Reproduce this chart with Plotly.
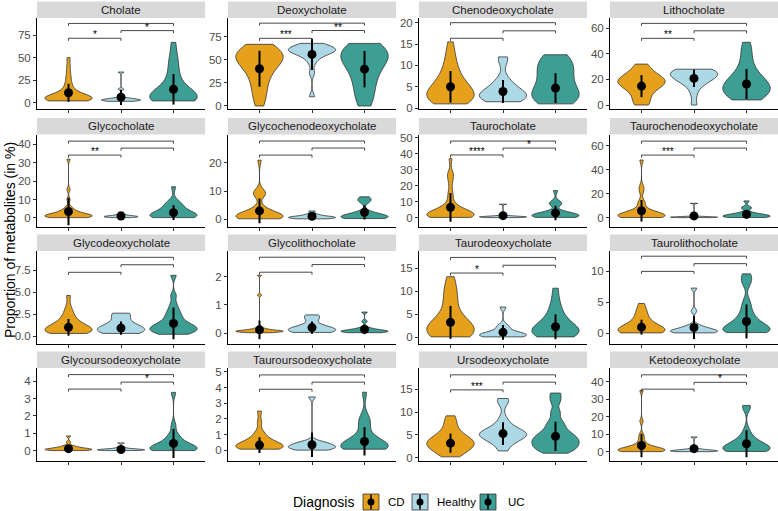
import plotly.graph_objects as go

W, H = 778, 511
GROUPS = ["CD", "Healthy", "UC"]
FILL = {"CD": "#E5A11C", "Healthy": "#ADD8E6", "UC": "#3D9E93"}

FACETS = ["Cholate", "Deoxycholate", "Chenodeoxycholate", "Lithocholate",
          "Glycocholate", "Glycochenodeoxycholate", "Taurocholate", "Taurochenodeoxycholate",
          "Glycodeoxycholate", "Glycolithocholate", "Taurodeoxycholate", "Taurolithocholate",
          "Glycoursodeoxycholate", "Tauroursodeoxycholate", "Ursodeoxycholate", "Ketodeoxycholate"]

# ---------------- sample values (proportion in %) per facet / diagnosis ----------------
CHOLATE_CD = [2, 2, 2.5, 3, 3, 3.5, 4, 4, 4.5, 5, 5, 5.5, 6, 6.5, 7, 8, 9, 10, 12, 14, 17, 21, 26, 32, 40, 50]
CHOLATE_HEALTHY = [1.5, 2, 2.5, 2.5, 3, 3, 3.5, 4, 4.5, 5, 15, 34]
CHOLATE_UC = [2, 2.5, 3, 3.5, 4, 4.5, 5, 5.5, 6, 7, 8, 10, 12, 15, 19, 24, 30, 37, 45, 52, 67]

DEOXY_CD = [0, 5, 10, 15, 20, 24, 28, 32, 35, 38, 41, 43, 45, 47, 49, 50, 51, 52, 53, 54, 55, 56, 57, 58, 59, 60, 61, 62, 64, 67]
DEOXY_HEALTHY = [10, 36, 47, 52, 55, 57, 58, 59, 60, 60.5, 61, 62, 63, 64, 65, 66, 68]
DEOXY_UC = [0, 4, 9, 14, 19, 24, 28, 32, 36, 40, 43, 46, 48, 50, 52, 54, 55, 57, 58, 59, 60, 62, 64, 66, 68]

CHENO_CD = [1, 1.2, 1.5, 1.8, 2, 2.2, 2.5, 2.8, 3, 3.2, 3.5, 3.8, 4, 4.5, 5, 5.5, 6, 6.5, 7, 8, 9, 10, 11.5, 13, 15.5]
CHENO_HEALTHY = [1.5, 1.8, 2, 2.3, 2.5, 2.8, 3, 3.3, 3.6, 4, 4.5, 5, 6, 7, 11, 12]
CHENO_UC = [1, 1.3, 1.6, 2, 2.3, 2.6, 3, 3.3, 3.6, 4, 4.5, 5, 6, 7, 7.5, 8, 8.5, 9, 10, 10.5, 11, 11.5, 12, 12.5]

LITHO_CD = [0, 1, 3, 6, 9, 11, 13, 14, 15, 16, 17, 18, 18.5, 19, 19.5, 20, 21, 22, 23, 25, 27, 30, 32]
LITHO_HEALTHY = [0, 9, 15, 17, 19, 20, 21, 22, 23, 24, 25, 26, 26.5, 27, 27.5, 28]
LITHO_UC = [4, 5, 6, 7, 8, 9, 10, 11, 12, 13, 14, 15, 16, 17, 18, 19, 20, 22, 24, 27, 30, 34, 40, 44, 49]

GLYCO_C_CD = [0.2, 0.3, 0.4, 0.5, 0.6, 0.7, 0.8, 0.9, 1, 1.1, 1.2, 1.4, 1.6, 1.8, 2, 2.3, 2.6, 3, 3.5, 4, 5, 6, 10, 15.5, 32]
GLYCO_C_HEALTHY = [0.2, 0.4, 0.5, 0.6, 0.7, 0.8, 0.9, 1, 1.2, 1.5, 2, 3.2]
GLYCO_C_UC = [0.2, 0.3, 0.5, 0.6, 0.8, 1, 1.2, 1.4, 1.6, 2, 2.5, 3, 4, 5, 6, 7, 8, 9, 17]

GLYCO_CDCA_CD = [0.2, 0.3, 0.4, 0.5, 0.6, 0.7, 0.8, 0.9, 1, 1.1, 1.3, 1.5, 1.7, 2, 2.4, 2.8, 3.5, 4.5, 8.5, 9, 9.5, 10, 21]
GLYCO_CDCA_HEALTHY = [0.2, 0.3, 0.4, 0.5, 0.6, 0.7, 0.8, 0.9, 1, 1.2, 1.5, 2, 3]
GLYCO_CDCA_UC = [0.3, 0.4, 0.5, 0.6, 0.7, 0.8, 0.9, 1, 1.1, 1.3, 1.5, 1.8, 2.2, 2.8, 6.2, 6.8, 7.2, 8]

TAURO_C_CD = [0.2, 0.3, 0.4, 0.5, 0.6, 0.8, 1, 1.2, 1.4, 1.6, 1.8, 2, 2.3, 2.6, 3, 3.4, 4, 4.5, 5, 6, 7, 9, 13, 16, 22, 26.5, 27.5, 37]
TAURO_C_HEALTHY = [0.1, 0.2, 0.3, 0.4, 0.5, 0.6, 0.7, 0.8, 1, 1.3, 8.5]
TAURO_C_UC = [0.2, 0.3, 0.5, 0.7, 0.9, 1.1, 1.3, 1.5, 1.8, 2.1, 2.5, 3, 3.5, 8.5, 9, 9.5, 17]

TAURO_CDCA_CD = [0.2, 0.3, 0.4, 0.6, 0.8, 1, 1.2, 1.4, 1.7, 2, 2.3, 2.7, 3, 3.5, 4, 5, 6, 8, 12, 13.5, 22, 26, 48]
TAURO_CDCA_HEALTHY = [0.1, 0.2, 0.3, 0.4, 0.5, 0.6, 0.7, 0.9, 1.1, 12]
TAURO_CDCA_UC = [0.2, 0.4, 0.6, 0.8, 1, 1.2, 1.5, 1.8, 2.2, 2.7, 3.3, 4, 8, 8.5, 14]

GLYCO_DCA_CD = [0.3, 0.35, 0.4, 0.45, 0.5, 0.55, 0.6, 0.65, 0.7, 0.8, 0.9, 1, 1.1, 1.2, 1.3, 1.5, 1.7, 2, 2.3, 2.7, 3.3, 4.6]
GLYCO_DCA_HEALTHY = [0.3, 0.4, 0.5, 0.6, 0.7, 0.8, 0.9, 1, 1.2, 1.5, 2.3, 2.45, 2.6]
GLYCO_DCA_UC = [0.2, 0.3, 0.4, 0.5, 0.6, 0.7, 0.8, 0.9, 1, 1.1, 1.2, 1.3, 1.5, 1.7, 2, 2.3, 2.6, 3.0, 3.6, 4.6, 6.9]

GLYCO_LCA_CD = [0.02, 0.03, 0.04, 0.05, 0.05, 0.06, 0.06, 0.07, 0.07, 0.08, 0.08, 0.09, 0.1, 0.11, 0.12, 0.14, 0.16, 0.2, 1.35, 2.05]
GLYCO_LCA_HEALTHY = [0.03, 0.05, 0.07, 0.09, 0.11, 0.13, 0.15, 0.18, 0.22, 0.27, 0.5, 0.58, 0.65]
GLYCO_LCA_UC = [0.02, 0.03, 0.04, 0.05, 0.06, 0.07, 0.08, 0.09, 0.1, 0.12, 0.15, 0.2, 0.42, 0.75]

TAURO_DCA_CD = [0.1, 0.2, 0.4, 0.6, 0.8, 1, 1.2, 1.4, 1.6, 1.8, 2, 2.3, 2.6, 3, 3.5, 4, 5, 6.5, 8, 9, 10, 11.5, 13.2]
TAURO_DCA_HEALTHY = [0.1, 0.2, 0.3, 0.4, 0.5, 0.6, 0.7, 0.9, 1.1, 2.2, 2.5, 6.6]
TAURO_DCA_UC = [0.1, 0.3, 0.5, 0.7, 0.9, 1.1, 1.3, 1.5, 1.8, 2.1, 2.5, 3, 3.6, 4.3, 5.2, 6.5, 8, 10.7]

TAURO_LCA_CD = [0.05, 0.1, 0.15, 0.2, 0.25, 0.3, 0.4, 0.5, 0.6, 0.7, 0.8, 1, 1.2, 1.5, 1.8, 2.2, 2.7, 3.3, 3.8, 4.8]
TAURO_LCA_HEALTHY = [0.05, 0.1, 0.15, 0.2, 0.25, 0.3, 0.4, 0.5, 0.6, 0.8, 1, 1.3, 3.6, 7.3]
TAURO_LCA_UC = [0.1, 0.15, 0.2, 0.3, 0.4, 0.5, 0.6, 0.8, 1, 1.2, 1.5, 1.8, 2.2, 2.7, 3.3, 4.2, 5.2, 8.0, 8.8, 9.6]

GLYCO_UDCA_CD = [0.01, 0.02, 0.03, 0.04, 0.05, 0.06, 0.07, 0.08, 0.09, 0.1, 0.12, 0.14, 0.17, 0.2, 0.25, 0.3, 0.5, 0.85]
GLYCO_UDCA_HEALTHY = [0.01, 0.02, 0.03, 0.04, 0.05, 0.06, 0.07, 0.08, 0.1, 0.13, 0.2, 0.45]
GLYCO_UDCA_UC = [0.01, 0.02, 0.04, 0.06, 0.08, 0.1, 0.12, 0.15, 0.2, 0.25, 0.3, 0.4, 0.6, 0.75, 0.9, 1.45, 3.35]

TAURO_UDCA_CD = [0.08, 0.1, 0.12, 0.15, 0.18, 0.2, 0.22, 0.25, 0.3, 0.35, 0.4, 0.45, 0.5, 0.6, 0.7, 0.8, 1, 1.2, 1.8, 2.5]
TAURO_UDCA_HEALTHY = [0.02, 0.05, 0.1, 0.15, 0.2, 0.25, 0.3, 0.35, 0.4, 0.5, 0.55, 3.4]
TAURO_UDCA_UC = [0.08, 0.1, 0.12, 0.15, 0.18, 0.2, 0.25, 0.3, 0.35, 0.4, 0.5, 0.6, 0.8, 1.1, 1.6, 1.9, 2.1, 3.7]

URSO_CD = [0.2, 0.8, 1.3, 1.7, 2, 2.3, 2.6, 2.9, 3.1, 3.3, 3.5, 3.8, 4, 4.3, 4.7, 5.2, 6, 7, 8.2, 9.2]
URSO_HEALTHY = [1.5, 3, 3.8, 4.3, 4.6, 4.9, 5.1, 5.3, 5.5, 5.8, 6.2, 7, 8.5, 12.2, 13]
URSO_UC = [1, 1.5, 2, 2.4, 2.8, 3.2, 3.6, 4, 4.4, 4.8, 5.3, 6, 7, 8, 10, 12.5, 14.2]

KETO_CD = [0.1, 0.2, 0.3, 0.4, 0.5, 0.6, 0.7, 0.8, 0.9, 1, 1.2, 1.4, 1.6, 1.9, 2.2, 2.6, 3, 3.5, 4.5, 6, 8, 10, 17.5, 35]
KETO_HEALTHY = [0.1, 0.2, 0.3, 0.4, 0.5, 0.6, 0.7, 0.9, 1.2, 1.6, 3, 8.5]
KETO_UC = [0.2, 0.4, 0.6, 0.8, 1, 1.3, 1.6, 2, 2.5, 3, 3.6, 4.3, 5, 6, 7.5, 9, 12.5, 25, 26.5]

SAMPLES = [
    (CHOLATE_CD, CHOLATE_HEALTHY, CHOLATE_UC),
    (DEOXY_CD, DEOXY_HEALTHY, DEOXY_UC),
    (CHENO_CD, CHENO_HEALTHY, CHENO_UC),
    (LITHO_CD, LITHO_HEALTHY, LITHO_UC),
    (GLYCO_C_CD, GLYCO_C_HEALTHY, GLYCO_C_UC),
    (GLYCO_CDCA_CD, GLYCO_CDCA_HEALTHY, GLYCO_CDCA_UC),
    (TAURO_C_CD, TAURO_C_HEALTHY, TAURO_C_UC),
    (TAURO_CDCA_CD, TAURO_CDCA_HEALTHY, TAURO_CDCA_UC),
    (GLYCO_DCA_CD, GLYCO_DCA_HEALTHY, GLYCO_DCA_UC),
    (GLYCO_LCA_CD, GLYCO_LCA_HEALTHY, GLYCO_LCA_UC),
    (TAURO_DCA_CD, TAURO_DCA_HEALTHY, TAURO_DCA_UC),
    (TAURO_LCA_CD, TAURO_LCA_HEALTHY, TAURO_LCA_UC),
    (GLYCO_UDCA_CD, GLYCO_UDCA_HEALTHY, GLYCO_UDCA_UC),
    (TAURO_UDCA_CD, TAURO_UDCA_HEALTHY, TAURO_UDCA_UC),
    (URSO_CD, URSO_HEALTHY, URSO_UC),
    (KETO_CD, KETO_HEALTHY, KETO_UC),
]

# ---------------- mean and SD per facet (CD, Healthy, UC) ----------------
MEANS = [
    [11, 6, 14.9], [40.5, 56, 40], [5.0, 3.9, 4.7], [14.8, 20.8, 16.4],
    [3.5, 1.1, 2.9], [3.0, 1.1, 2.5], [6.5, 1.3, 3.0], [5.8, 1.5, 2.8],
    [0.99, 0.91, 1.44], [0.12, 0.2, 0.14], [3.26, 1.09, 2.3], [0.98, 0.92, 1.9],
    [0.12, 0.07, 0.42], [0.34, 0.36, 0.57], [3.2, 5.3, 4.7], [3.6, 1.8, 4.6],
]
SDS = [
    [10, 8.5, 17], [19.5, 17, 19.8], [3.7, 2.7, 3.5], [8.6, 6.8, 11.8],
    [7.5, 1.3, 4.0], [4.4, 1.2, 2.5], [9.0, 2.3, 4.5], [9.0, 2.5, 3.5],
    [0.95, 0.75, 1.8], [0.33, 0.22, 0.17], [3.6, 1.6, 2.7], [1.2, 1.85, 2.75],
    [0.2, 0.12, 0.83], [0.5, 0.78, 0.9], [2.1, 2.5, 3.2], [6.7, 2.2, 7.7],
]

# ---------------- significance brackets: (CD-Healthy, Healthy-UC, CD-UC) ----------------
SIG_LABELS = [
    ["*", "*", ""], ["***", "**", ""], ["", "", ""], ["**", "", ""],
    ["**", "", ""], ["", "", ""], ["****", "*", ""], ["***", "", ""],
    ["", "", ""], ["", "", ""], ["*", "", ""], ["", "", ""],
    ["", "*", ""], ["", "", ""], ["***", "", ""], ["", "*", ""],
]
BRACKET_Y = [
    [71.5, 80, 88], [73.5, 82, 90], [16.35, 18.1, 20.0], [52.1, 58, 63.8],
    [34.2, 38, 41.8], [22.8, 25.3, 27.8], [39.3, 43.6, 48], [52.1, 57.9, 63.7],
    [7.24, 8.1, 8.94], [2.16, 2.43, 2.69], [14.0, 15.7, 17.4], [10.0, 11.25, 12.46],
    [3.54, 3.94, 4.37], [3.89, 4.34, 4.8], [14.9, 16.6, 18.2], [35.8, 39.7, 44],
]

# ---------------- y axis ticks ----------------
Y_TICKS = [
    [0, 25, 50, 75], [0, 25, 50, 75], [0, 5, 10, 15, 20], [0, 20, 40, 60],
    [0, 10, 20, 30, 40], [0, 10, 20], [0, 10, 20, 30, 40, 50], [0, 20, 40, 60],
    [0, 2.5, 5, 7.5], [0, 1, 2], [0, 5, 10, 15], [0, 5, 10],
    [0, 1, 2, 3, 4], [0, 1, 2, 3, 4, 5], [0, 5, 10, 15], [0, 10, 20, 30, 40],
]
Y_TICK_TEXT = {8: ["0.0", "2.5", "5.0", "7.5"]}

# ---------------- layout (style) ----------------
Y_RANGES = [
    [-7, 94], [-3.3, 95.6], [-0.2, 21.1], [-3.1, 68],
    [-4.9, 45.4], [-2.7, 30.1], [-5.8, 52.1], [-7.7, 69.2],
    [-0.9, 9.66], [-0.38, 2.91], [-1.45, 18.8], [-1.75, 13.3],
    [-0.56, 4.75], [-0.64, 5.24], [-0.6, 19.7], [-4.96, 47.9],
]
VIOLIN_WIDTH = {(0, 1): 0.75, (4, 1): 0.65}
KDE_BANDWIDTH = {(8, 2): 0.4, (11, 2): 0.8, (14, 2): 0.9}

COL_X = [(37, 205), (228, 396), (419, 587), (610, 778)]
ROW_Y = [(18, 109), (134.5, 227), (251, 344), (368, 460.5)]
STRIP_H = 16.5
FONT = "Liberation Sans, Arial, Helvetica, sans-serif"
POS = [1, 2, 3]


def fx(px):
    return px / W


def fy(py):
    return 1 - py / H


fig = go.Figure()
shapes = []
annotations = []
layout_axes = {}

for i, name in enumerate(FACETS):
    r, c = divmod(i, 4)
    k = i + 1
    xs = "x" if k == 1 else f"x{k}"
    ys = "y" if k == 1 else f"y{k}"
    xa = "xaxis" if k == 1 else f"xaxis{k}"
    ya = "yaxis" if k == 1 else f"yaxis{k}"
    x0, x1 = COL_X[c]
    y0, y1 = ROW_Y[r]
    yr = Y_RANGES[i]

    # violins
    for g, grp in enumerate(GROUPS):
        vals = SAMPLES[i][g]
        extra = {}
        if (i, g) in KDE_BANDWIDTH:
            extra["bandwidth"] = KDE_BANDWIDTH[(i, g)]
        fig.add_trace(go.Violin(
            x=[POS[g]] * len(vals), y=vals, xaxis=xs, yaxis=ys,
            width=VIOLIN_WIDTH.get((i, g), 0.9), scalemode="width", spanmode="hard",
            points=False, fillcolor=FILL[grp], opacity=1,
            line=dict(color="#333333", width=0.8),
            box=dict(visible=False), meanline=dict(visible=False),
            showlegend=False, hoverinfo="skip", name=grp, **extra))

    # mean +/- sd
    fig.add_trace(go.Scatter(
        x=POS, y=MEANS[i], xaxis=xs, yaxis=ys, mode="markers",
        marker=dict(color="black", size=9),
        error_y=dict(type="data", array=SDS[i], visible=True, color="black", thickness=2, width=0),
        showlegend=False, hoverinfo="skip"))

    # significance brackets
    tip = (yr[1] - yr[0]) * 2.5 / (y1 - y0)
    pairs = [(1, 2), (2, 3), (1, 3)]
    bx, by = [], []
    for (a, b), yb, lab in zip(pairs, BRACKET_Y[i], SIG_LABELS[i]):
        bx += [a, a, b, b, None]
        by += [yb - tip, yb, yb, yb - tip, None]
        if lab:
            annotations.append(dict(x=(a + b) / 2, y=yb, xref=xs, yref=ys, text=lab,
                                    showarrow=False, yanchor="bottom", yshift=-4,
                                    font=dict(size=10, color="#000000", family=FONT)))
    fig.add_trace(go.Scatter(x=bx, y=by, xaxis=xs, yaxis=ys, mode="lines",
                             line=dict(color="#333333", width=0.9),
                             showlegend=False, hoverinfo="skip"))

    layout_axes[xa] = dict(domain=[fx(x0), fx(x1)], range=[0.4, 3.6], anchor=ys,
                           tickvals=POS, ticktext=["", "", ""], ticks="outside", ticklen=3,
                           tickcolor="#333333", showline=True, linecolor="black", linewidth=1,
                           showgrid=False, zeroline=False, automargin=False)
    layout_axes[ya] = dict(domain=[fy(y1), fy(y0)], range=yr, anchor=xs,
                           tickvals=Y_TICKS[i],
                           ticktext=Y_TICK_TEXT.get(i, [f"{t:g}" for t in Y_TICKS[i]]),
                           ticks="outside", ticklen=3, tickcolor="#333333",
                           tickfont=dict(size=11.5, color="#4D4D4D", family=FONT),
                           showline=True, linecolor="black", linewidth=1,
                           showgrid=False, zeroline=False, automargin=False)

    # strip
    shapes.append(dict(type="rect", xref="paper", yref="paper", x0=fx(x0), x1=fx(x1),
                       y0=fy(y0), y1=fy(y0 - STRIP_H), fillcolor="#D9D9D9", line=dict(width=0),
                       layer="below"))
    annotations.append(dict(x=fx((x0 + x1) / 2), y=fy(y0 - STRIP_H / 2), xref="paper", yref="paper",
                            text=name, showarrow=False, xanchor="center", yanchor="middle",
                            font=dict(size=11.5, color="#1A1A1A", family=FONT)))

# y-axis title
annotations.append(dict(x=fx(10), y=fy(240), xref="paper", yref="paper",
                        text="Proportion of metabolites (in %)", textangle=-90, showarrow=False,
                        xanchor="center", yanchor="middle", font=dict(size=14, color="black", family=FONT)))

# legend
LEG_Y = 502
annotations.append(dict(x=fx(291), y=fy(LEG_Y), xref="paper", yref="paper", text="Diagnosis",
                        showarrow=False, xanchor="left", yanchor="middle",
                        font=dict(size=14, color="black", family=FONT)))
for grp, kx, tx in zip(GROUPS, [363, 412, 480], [386, 435, 506]):
    shapes.append(dict(type="rect", xref="paper", yref="paper", x0=fx(kx), x1=fx(kx + 16),
                       y0=fy(LEG_Y + 8), y1=fy(LEG_Y - 8), fillcolor=FILL[grp],
                       line=dict(color="#333333", width=0.8)))
    shapes.append(dict(type="line", xref="paper", yref="paper", x0=fx(kx + 8), x1=fx(kx + 8),
                       y0=fy(LEG_Y + 7.5), y1=fy(LEG_Y - 7.5), line=dict(color="black", width=1.5)))
    shapes.append(dict(type="circle", xref="paper", yref="paper", x0=fx(kx + 4.5), x1=fx(kx + 11.5),
                       y0=fy(LEG_Y + 3.5), y1=fy(LEG_Y - 3.5), fillcolor="black", line=dict(width=0)))
    annotations.append(dict(x=fx(tx), y=fy(LEG_Y), xref="paper", yref="paper", text=grp,
                            showarrow=False, xanchor="left", yanchor="middle",
                            font=dict(size=11.5, color="black", family=FONT)))

fig.update_layout(
    width=W, height=H, margin=dict(l=0, r=0, t=0, b=0),
    template="none", paper_bgcolor="white", plot_bgcolor="white",
    violinmode="overlay", showlegend=False, hovermode=False,
    shapes=shapes, annotations=annotations, **layout_axes)

fig.write_html("out.html", config={"displayModeBar": False, "staticPlot": True},
               post_script="document.body.style.margin='0';document.body.style.overflow='hidden';")
